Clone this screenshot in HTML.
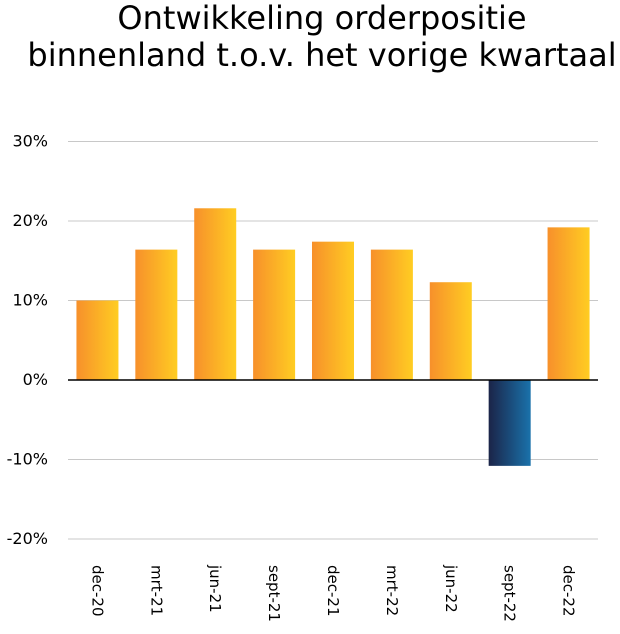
<!DOCTYPE html>
<html><head><meta charset="utf-8"><style>
body{margin:0;background:#fff;width:620px;height:630px;overflow:hidden;font-family:"DejaVu Sans","Liberation Sans",sans-serif;}
</style></head><body>
<svg width="620" height="630">
<defs>
<linearGradient id="gp" x1="0" x2="1" y1="0" y2="0"><stop offset="0" stop-color="#f7902b"/><stop offset="1" stop-color="#ffcd22"/></linearGradient>
<linearGradient id="gn" x1="0" x2="1" y1="0" y2="0"><stop offset="0" stop-color="#1b2448"/><stop offset="1" stop-color="#1a72ab"/></linearGradient>
</defs>
<text x="322" y="29" text-anchor="middle" font-size="32" fill="#000">Ontwikkeling orderpositie</text>
<text x="322" y="66" text-anchor="middle" font-size="32" fill="#000">binnenland t.o.v. het vorige kwartaal</text>
<g id="grid"></g><g id="bars"></g><g id="labels"></g>
</svg>
<script>
const categories=["dec-20","mrt-21","jun-21","sept-21","dec-21","mrt-22","jun-22","sept-22","dec-22"];
const values=[10,16.4,21.6,16.4,17.4,16.4,12.3,-10.8,19.2];
const ticks=[30,20,10,0,-10,-20];
const ns="http://www.w3.org/2000/svg";
const x0=68,x1=598,zeroY=380,pxPer=7.95;
const y=v=>zeroY-v*pxPer;
const bw=(x1-x0)/categories.length;
const xc=i=>x0+bw*(i+0.5);
function mk(t,a,p){const e=document.createElementNS(ns,t);for(const k in a)e.setAttribute(k,a[k]);p.appendChild(e);return e;}
const g=document.getElementById('grid'),b=document.getElementById('bars'),l=document.getElementById('labels');
ticks.forEach(t=>{
 const ln=mk('line',{x1:x0,x2:x1,y1:y(t),y2:y(t),stroke:'#c8c8c8','stroke-width':1},g);
 
 
 const tx=mk('text',{x:48,y:y(t)+5,'text-anchor':'end','font-size':16,fill:'#000'},g);
 tx.textContent=t+'%';
 
 
});
values.forEach((v,i)=>{
 const w=42,top=v>=0?y(v):zeroY,h=Math.abs(y(v)-zeroY);
 const r=mk('rect',{x:xc(i)-w/2,y:top,width:w,height:h,fill:v>=0?'url(#gp)':'url(#gn)'},b);
 
 
 const tx=mk('text',{x:0,y:0,'font-size':15,fill:'#000',transform:`translate(${xc(i)-5},565) rotate(90)`},l);
 tx.textContent=categories[i];
 
 
});
const ax=mk('line',{x1:x0,x2:x1,y1:zeroY,y2:zeroY,stroke:'#000','stroke-width':1.5},b);


</script>
</body></html>
